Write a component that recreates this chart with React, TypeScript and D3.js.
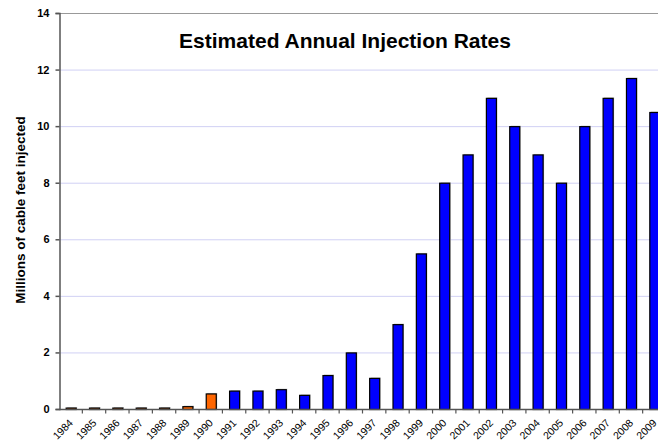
import { useEffect, useRef } from 'react'
import * as d3 from 'd3'

const years = [
  '1984', '1985', '1986', '1987', '1988', '1989', '1990', '1991', '1992', '1993', '1994', '1995', '1996',
  '1997', '1998', '1999', '2000', '2001', '2002', '2003', '2004', '2005', '2006', '2007', '2008', '2009',
]
const injected = [
  0.05, 0.05, 0.05, 0.05, 0.05, 0.1, 0.55, 0.65, 0.65, 0.7, 0.5, 1.2, 2.0, 1.1, 3.0, 5.5, 8, 9, 11, 10, 9, 8,
  10, 11, 11.7, 10.5,
]
// years before 1991 drawn in orange
const orangeUntil = '1990'
const yTicks = [0, 2, 4, 6, 8, 10, 12, 14]

export default function App() {
  const ref = useRef<SVGSVGElement>(null)

  useEffect(() => {
    const svgEl = ref.current
    if (!svgEl) return
    const width = 658
    const height = 443
    const svg = d3.select(svgEl)
    svg.selectAll('*').remove()

    const left = 59
    const right = 666
    const top = 13
    const bottom = 409
    const font = 'Arial, "Liberation Sans", sans-serif'

    const x = d3.scaleBand<string>().domain(years).range([left, right]).paddingInner(0.57).paddingOuter(0.285)
    const xb = d3.scaleBand<string>().domain(years).range([left, right])
    const y = d3.scaleLinear().domain([0, 14]).range([bottom, top])

    svg.attr('width', width).attr('height', height)
    svg.append('rect').attr('width', width).attr('height', height).attr('fill', '#fff')

    // gridlines
    svg
      .append('g')
      .selectAll('line')
      .data(yTicks.filter((d) => d > 0 && d < 14))
      .enter()
      .append('line')
      .attr('x1', left)
      .attr('x2', width)
      .attr('y1', (d) => y(d) + 0.5)
      .attr('y2', (d) => y(d) + 0.5)
      .attr('stroke', '#d0d0f4')
      .attr('stroke-width', 1)

    // top border
    svg
      .append('line')
      .attr('x1', left)
      .attr('x2', width)
      .attr('y1', y(14) + 0.5)
      .attr('y2', y(14) + 0.5)
      .attr('stroke', '#999')

    const data = years.map((yr, i) => ({ yr, v: injected[i] }))
    const isOrange = (yr: string) => +yr <= +orangeUntil

    // light shadows
    svg
      .append('g')
      .selectAll('rect')
      .data(data)
      .enter()
      .append('rect')
      .attr('x', (d) => (x(d.yr) as number) + 1.5)
      .attr('y', (d) => y(d.v) - 0.5)
      .attr('width', x.bandwidth())
      .attr('height', (d) => bottom - y(d.v))
      .attr('fill', '#c4c4c4')

    svg
      .append('g')
      .selectAll('rect')
      .data(data)
      .enter()
      .append('rect')
      .attr('x', (d) => (x(d.yr) as number) + 0.5)
      .attr('y', (d) => y(d.v) + 0.5)
      .attr('width', x.bandwidth())
      .attr('height', (d) => Math.max(bottom - y(d.v), 1))
      .attr('fill', (d) => (isOrange(d.yr) ? '#ff6600' : '#0000ff'))
      .attr('stroke', '#000')
      .attr('stroke-width', 1.2)

    // y axis
    const yAxis = svg
      .append('g')
      .attr('transform', `translate(${left + 0.5},0)`)
      .call(d3.axisLeft(y).tickValues(yTicks).tickSize(4).tickPadding(6))
    yAxis.selectAll('path,line').attr('stroke', '#555').attr('stroke-width', 1.5)
    yAxis
      .selectAll('text')
      .attr('fill', '#000')
      .style('font-family', font)
      .style('font-size', '11px')
      .style('font-weight', 'bold')

    // x axis
    const xAxisG = svg.append('g').attr('transform', `translate(0,${bottom + 0.5})`)
    xAxisG
      .append('line')
      .attr('x1', left)
      .attr('x2', width)
      .attr('stroke', '#555')
      .attr('stroke-width', 1.5)
    xAxisG
      .selectAll('line.tick')
      .data(years)
      .enter()
      .append('line')
      .attr('class', 'tick')
      .attr('x1', (d) => (xb(d) as number) + xb.bandwidth())
      .attr('x2', (d) => (xb(d) as number) + xb.bandwidth())
      .attr('y1', 0)
      .attr('y2', 4)
      .attr('stroke', '#555')
      .attr('stroke-width', 1.2)
    xAxisG
      .selectAll('text')
      .data(years)
      .enter()
      .append('text')
      .attr('transform', (d) => `translate(${(xb(d) as number) + xb.bandwidth() / 2 + 3},${14}) rotate(-45)`)
      .attr('text-anchor', 'end')
      .attr('fill', '#000')
      .style('font-family', font)
      .style('font-size', '10.5px')
      .text((d) => d)

    // title
    svg
      .append('text')
      .attr('x', 345)
      .attr('y', 48)
      .attr('text-anchor', 'middle')
      .style('font-family', font)
      .style('font-size', '21px')
      .style('font-weight', 'bold')
      .text('Estimated Annual Injection Rates')

    // y title
    svg
      .append('text')
      .attr('transform', `translate(25,${210}) rotate(-90)`)
      .attr('text-anchor', 'middle')
      .style('font-family', font)
      .style('font-size', '13.5px')
      .style('font-weight', 'bold')
      .text('Millions of cable feet injected')
  }, [])

  return <svg ref={ref} style={{ position: 'absolute', left: 0, top: 0 }} />
}
